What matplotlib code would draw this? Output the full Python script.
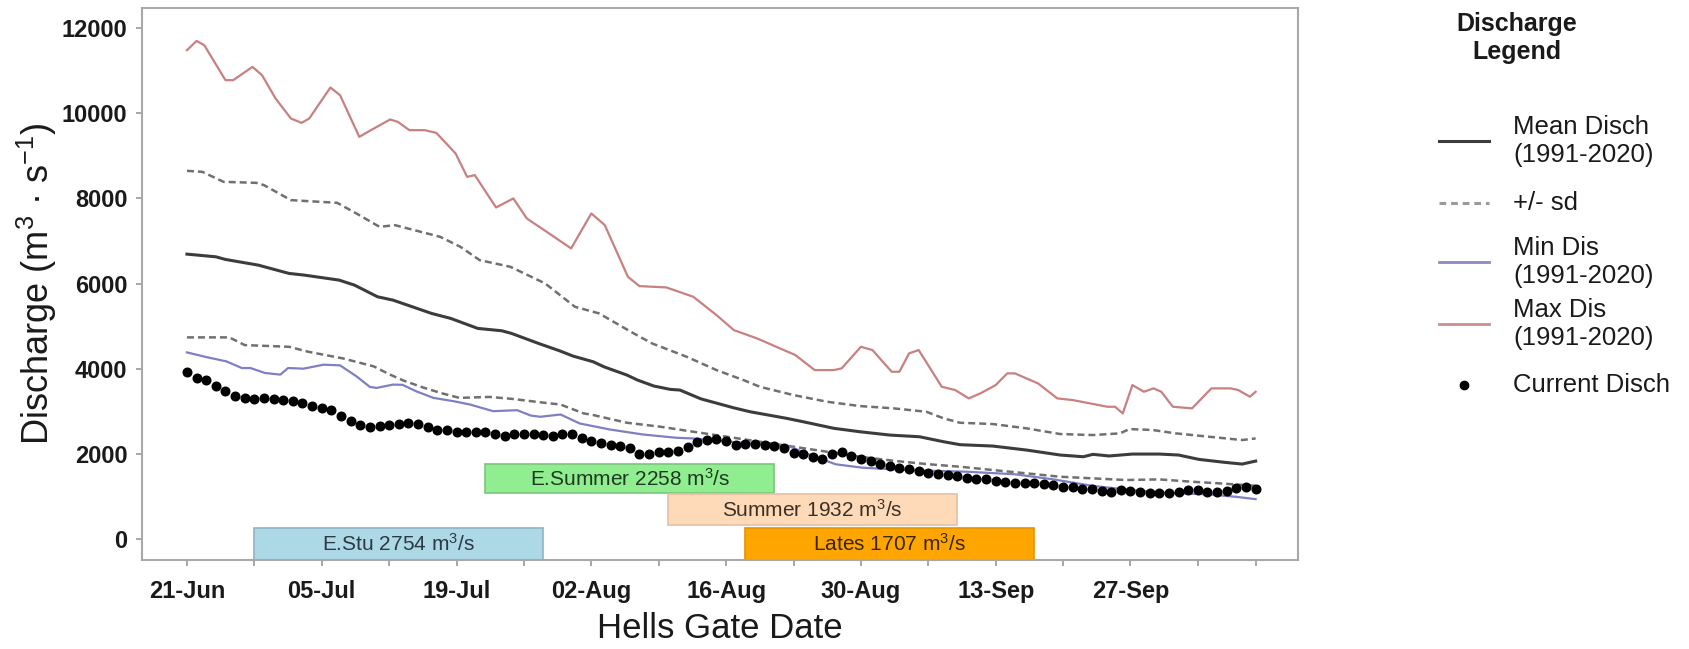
import matplotlib
matplotlib.use("Agg")
import matplotlib.pyplot as plt
from matplotlib.lines import Line2D
from matplotlib.patches import Rectangle

plt.rcParams['font.family'] = ['Liberation Sans', 'DejaVu Sans']
plt.rcParams['mathtext.fontset'] = 'custom'
plt.rcParams['mathtext.rm'] = 'Liberation Sans'
plt.rcParams['mathtext.it'] = 'Liberation Sans:italic'
plt.rcParams['mathtext.bf'] = 'Liberation Sans:bold'

# ---------------- data (day 0 = 21-Jun) ----------------
tick_days = [0, 14, 28, 42, 56, 70, 84, 98]
tick_labels = ['21-Jun', '05-Jul', '19-Jul', '02-Aug', '16-Aug', '30-Aug', '13-Sep', '27-Sep']
minor_days = [7, 21, 35, 49, 63, 77, 91, 105, 111]

max_days = [0, 1.0, 1.8, 4.0, 4.8, 6.8, 7.8, 9.2, 10.8, 11.9, 12.7, 14.9, 15.9, 17.9, 19.1,
            21.1, 21.9, 23.1, 24.7, 25.9, 27.9, 29.1, 29.9, 32.1, 33.9, 35.3, 37.1, 39.9,
            42.0, 43.4, 45.8, 47.0, 49.8, 52.6, 55.0, 56.8, 59.2, 63.2, 65.2, 67.2, 68.0,
            70.0, 71.2, 73.2, 74.0, 75.0, 76.0, 78.4, 79.8, 81.2, 82.4, 84.0, 85.2, 86.0,
            88.4, 90.4, 92.0, 95.6, 96.4, 97.2, 98.2, 99.4, 100.4, 101.2, 102.4, 104.4,
            106.4, 108.4, 109.2, 110.4, 111]
max_vals = [11479, 11697, 11596, 10775, 10775, 11087, 10892, 10345, 9875, 9772, 9875, 10603,
            10423, 9444, 9601, 9852, 9796, 9601, 9601, 9538, 9054, 8505, 8545, 7786, 7997,
            7528, 7254, 6824, 7645, 7371, 6157, 5939, 5908, 5688, 5258, 4906, 4711, 4319,
            3967, 3967, 4007, 4514, 4437, 3928, 3928, 4359, 4437, 3575, 3498, 3302, 3419,
            3615, 3889, 3889, 3654, 3302, 3263, 3106, 3106, 2950, 3615, 3458, 3537, 3458,
            3106, 3068, 3537, 3537, 3498, 3341, 3458]

upsd_days = [0, 1.6, 3.8, 7.2, 8.0, 10.8, 15.6, 17.6, 20.0, 21.6, 26.3, 28.4, 30.4, 33.6,
             37.2, 40.3, 42.8, 46.4, 48.3, 51.9, 55.0, 57.8, 59.5, 63.0, 66.5, 69.9, 73.4,
             76.8, 78.6, 80.3, 83.7, 87.2, 90.7, 94.1, 96.9, 97.9, 100.3, 102.7, 106.2,
             109.6, 111]
upsd_vals = [8646, 8622, 8388, 8364, 8310, 7958, 7895, 7645, 7331, 7371, 7096, 6862, 6549,
             6392, 6002, 5453, 5298, 4829, 4594, 4280, 3967, 3732, 3575, 3380, 3223, 3122,
             3068, 2988, 2833, 2730, 2700, 2599, 2465, 2441, 2481, 2582, 2560, 2481, 2401,
             2324, 2362]

mean_days = [0, 3, 4, 7.4, 10.6, 12.2, 15.8, 17.4, 19.8, 21.4, 25.4, 27.4, 30.2, 32.7, 33.7,
             36.5, 38.7, 40.1, 42.2, 43.3, 45.7, 46.8, 48.5, 50.2, 51.2, 53.4, 56.8, 58.5,
             62.3, 64.0, 67.2, 69.9, 73.0, 76.1, 78.6, 80.3, 83.7, 87.2, 90.7, 93.1, 94.1,
             95.8, 98.2, 101, 103, 105.1, 107.8, 109.6, 111]
mean_vals = [6690, 6627, 6565, 6432, 6237, 6197, 6080, 5962, 5688, 5610, 5298, 5180, 4946,
             4890, 4829, 4594, 4420, 4296, 4162, 4045, 3850, 3732, 3592, 3514, 3498, 3290,
             3080, 2988, 2833, 2754, 2599, 2519, 2441, 2401, 2284, 2215, 2183, 2089, 1972,
             1932, 1988, 1950, 1995, 1995, 1972, 1870, 1800, 1760, 1830]

losd_days = [0, 4.4, 6.0, 10.6, 12.6, 16.2, 19.4, 21.0, 22.5, 24.5, 26.5, 28.3, 31.4, 33.8,
             36.6, 38.8, 41.2, 42.2, 45.7, 49.2, 52.6, 56.1, 59.5, 63.0, 66.5, 69.9, 73.4,
             76.8, 80.3, 83.7, 87.2, 90.7, 94.1, 97.5, 101, 104.4, 107.2, 111]
losd_vals = [4735, 4735, 4554, 4514, 4397, 4241, 4054, 3870, 3720, 3560, 3420, 3314, 3337,
             3290, 3213, 3158, 2950, 2911, 2730, 2636, 2519, 2401, 2284, 2167, 2049, 1932,
             1838, 1760, 1697, 1620, 1542, 1462, 1424, 1385, 1400, 1345, 1307, 1250]

min_days = [0, 2, 4.1, 5.7, 6.6, 8.1, 9.7, 10.5, 12.1, 14.2, 15.9, 17.6, 19.0, 19.7, 21.4,
            22.4, 23.8, 25.6, 27.7, 29.4, 31.8, 34.3, 35.7, 36.7, 38.8, 40.8, 43.9, 47.3,
            50.8, 52.5, 56, 59, 62.5, 65, 67.4, 70.1, 73, 76, 81, 86, 90, 94, 98, 102, 106,
            109, 111]
min_vals = [4382, 4273, 4171, 4015, 4015, 3899, 3860, 4015, 4000, 4094, 4078, 3821, 3572,
            3548, 3626, 3620, 3470, 3314, 3236, 3158, 3002, 3025, 2900, 2870, 2924, 2713,
            2573, 2456, 2378, 2362, 2290, 2240, 2183, 1950, 1754, 1676, 1640, 1610, 1580,
            1520, 1400, 1250, 1150, 1080, 1050, 990, 936]

current_vals = [3914, 3782, 3727, 3587, 3470, 3361, 3305, 3298, 3314, 3298,
                3267, 3236, 3197, 3135, 3080, 3018, 2885, 2760, 2674, 2635,
                2650, 2674, 2706, 2721, 2706, 2620, 2557, 2550, 2510, 2503,
                2503, 2518, 2472, 2425, 2472, 2472, 2472, 2433, 2430, 2456,
                2456, 2378, 2300, 2261, 2206, 2183, 2144, 1988, 1988, 2043,
                2050, 2066, 2160, 2277, 2324, 2339, 2300, 2206, 2222, 2222,
                2206, 2183, 2144, 2011, 1988, 1934, 1871, 1988, 2043, 1949,
                1871, 1832, 1754, 1715, 1676, 1637, 1598, 1559, 1520, 1505,
                1481, 1442, 1415, 1403, 1364, 1350, 1325, 1310, 1310, 1287,
                1270, 1232, 1220, 1185, 1170, 1131, 1107, 1154, 1131, 1107,
                1092, 1092, 1092, 1107, 1154, 1154, 1107, 1107, 1131, 1209,
                1224, 1170]
current_days = list(range(len(current_vals)))

run_names = ['E.Stu', 'E.Summer', 'Summer', 'Lates']
run_values = [2754, 2258, 1932, 1707]
run_start = [7, 31, 50, 58]
run_end = [37, 61, 80, 88]
run_low = [-500, 1070, 330, -500]
run_high = [260, 1760, 1055, 260]
run_colors = ['#add8e6', '#90ee90', '#ffdab9', '#ffa500']
run_edges = ['#8fb3c2', '#7cc47c', '#e6c0a0', '#e39300']
run_text = ['#2b3a44', '#1e3a1e', '#3d3024', '#3a2600']

# ---------------- figure ----------------
W, H = 1690, 649
fig = plt.figure(figsize=(W / 100, H / 100), dpi=100)
fig.patch.set_facecolor('white')
L, R, T, B = 142, 1298, 8, 560
ax = fig.add_axes([L / W, (H - B) / H, (R - L) / W, (B - T) / H])

c_max = '#c88080'
c_min = '#7f7fc4'
c_mean = '#3c3c3c'
c_sd = '#707070'

for s, e, lo, hi, fc, ec in zip(run_start, run_end, run_low, run_high, run_colors, run_edges):
    ax.add_patch(Rectangle((s, lo), e - s, hi - lo, facecolor=fc, edgecolor=ec,
                           linewidth=1.2, zorder=1))
for s, e, lo, hi, nm, v, tc in zip(run_start, run_end, run_low, run_high, run_names,
                                   run_values, run_text):
    ymid = (max(lo, -493) + hi) / 2
    ax.text((s + e) / 2, ymid, f"{nm} {v} m$^3$/s", ha='center', va='center',
            fontsize=15, color=tc, zorder=1.5)

ax.plot(max_days, max_vals, color=c_max, lw=1.6, zorder=2)
ax.plot(upsd_days, upsd_vals, color=c_sd, lw=1.8, ls=(0, (2.8, 1.6)), zorder=2)
ax.plot(losd_days, losd_vals, color=c_sd, lw=1.8, ls=(0, (2.8, 1.6)), zorder=2)
ax.plot(mean_days, mean_vals, color=c_mean, lw=2.2, zorder=2)
ax.plot(min_days, min_vals, color=c_min, lw=1.6, zorder=2)
ax.plot(current_days, current_vals, 'o', color='black', markersize=6.2, zorder=3)

ax.set_xlim(-4.67, 115.4)
ax.set_ylim(-493, 12470)
ax.set_xticks(tick_days)
ax.set_xticklabels(tick_labels)
ax.set_xticks(minor_days, minor=True)
ax.set_yticks([0, 2000, 4000, 6000, 8000, 10000, 12000])

for sp in ax.spines.values():
    sp.set_color('#a8a8a8')
    sp.set_linewidth(1.5)
ax.tick_params(axis='both', which='both', direction='out', length=4.5, width=1.1,
               color='#909090')
ax.tick_params(axis='x', which='major', pad=10)
ax.tick_params(axis='y', which='major', pad=6)
for lab in ax.get_xticklabels() + ax.get_yticklabels():
    lab.set_fontsize(17)
    lab.set_fontweight('bold')
    lab.set_color('#1a1a1a')

ax.set_xlabel('Hells Gate Date', fontsize=25, color='#1a1a1a')
ax.xaxis.set_label_coords(0.5, -0.095)
ax.set_ylabel('Discharge (m$^3$ · s$^{-1}$)', fontsize=26, color='#1a1a1a')
ax.yaxis.set_label_coords(-0.072, 0.5)

# ---------------- legend (drawn in figure pixel space) ----------------
lax = fig.add_axes([0, 0, 1, 1], facecolor='none')
lax.set_xlim(0, W)
lax.set_ylim(H, 0)
lax.axis('off')
lax.text(1517, 38, 'Discharge\nLegend', ha='center', va='center', fontsize=18,
         fontweight='bold', linespacing=1.25, color='#1a1a1a')
entries = [
    ('Mean Disch\n(1991-2020)', dict(color=c_mean, lw=2.2), 141),
    ('+/- sd', dict(color='#9a9a9a', lw=2.2, ls=(0, (2.2, 1.6))), 203),
    ('Min Dis\n(1991-2020)', dict(color='#8a8abc', lw=2.0), 262),
    ('Max Dis\n(1991-2020)', dict(color='#c49090', lw=2.0), 324),
]
for label, style, yy in entries:
    lax.add_line(Line2D([1439, 1489], [yy, yy], **style))
    lax.text(1513, yy, label, ha='left', va='center', fontsize=18.5,
             linespacing=1.2, color='#1a1a1a')
lax.add_line(Line2D([1464], [385], marker='o', color='black', markersize=6, ls='none'))
lax.text(1513, 385, 'Current Disch', ha='left', va='center', fontsize=18.5,
         color='#1a1a1a')

fig.savefig('out.png', dpi=100, facecolor='white')
